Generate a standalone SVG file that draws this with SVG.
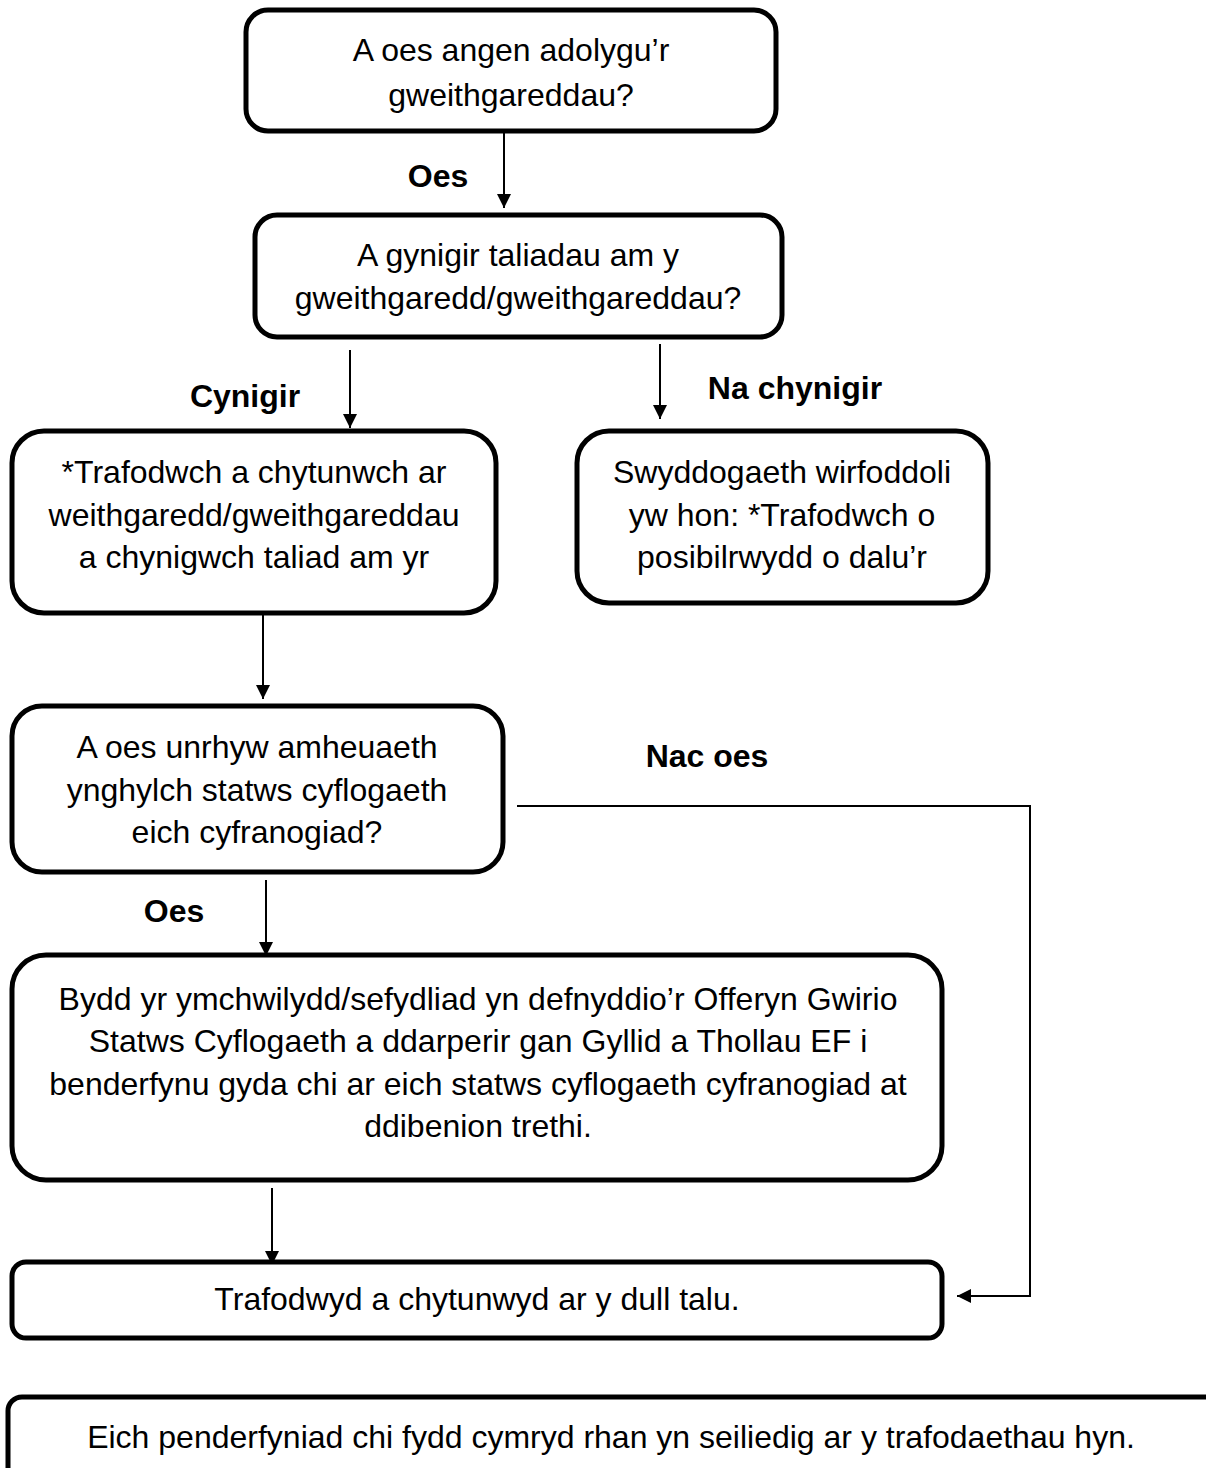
<svg xmlns="http://www.w3.org/2000/svg" width="1206" height="1468" viewBox="0 0 1206 1468">
<style>
.box{fill:#fff;stroke:#000;stroke-width:5}
.t{font-family:"Liberation Sans",Arial,sans-serif;font-size:32px;fill:#000;text-anchor:middle}
.lb{font-family:"Liberation Sans",Arial,sans-serif;font-size:32px;font-weight:bold;fill:#000;text-anchor:middle}
.c{fill:none;stroke:#000;stroke-width:2}
</style>
<defs>
<marker id="ah" markerWidth="14" markerHeight="14" refX="14" refY="7" orient="auto" markerUnits="userSpaceOnUse">
<path d="M0,0 L14,7 L0,14 Z" fill="#000"/>
</marker>
</defs>
<rect width="1206" height="1468" fill="#fff"/>
<g id="connectors">
<line class="c" x1="504" y1="132" x2="504" y2="208" marker-end="url(#ah)"/>
<line class="c" x1="350" y1="350" x2="350" y2="428" marker-end="url(#ah)"/>
<line class="c" x1="660" y1="344" x2="660" y2="419" marker-end="url(#ah)"/>
<line class="c" x1="263" y1="614" x2="263" y2="699" marker-end="url(#ah)"/>
<line class="c" x1="266" y1="880" x2="266" y2="956" marker-end="url(#ah)"/>
<line class="c" x1="272" y1="1188" x2="272" y2="1265" marker-end="url(#ah)"/>
<polyline class="c" points="517,806 1030,806 1030,1296 957,1296" marker-end="url(#ah)"/>
<text class="lb" x="438" y="187">Oes</text>
<text class="lb" x="245" y="407">Cynigir</text>
<text class="lb" x="795" y="399">Na chynigir</text>
<text class="lb" x="707" y="767">Nac oes</text>
<text class="lb" x="174" y="922">Oes</text>
</g>
<g id="n1">
<rect class="box" x="246" y="10" width="530" height="121" rx="22"/>
<text class="t" x="511" y="61">A oes angen adolygu’r</text>
<text class="t" x="511" y="106">gweithgareddau?</text>
</g>
<g id="n2">
<rect class="box" x="255" y="215" width="527" height="122" rx="22"/>
<text class="t" x="518" y="266">A gynigir taliadau am y</text>
<text class="t" x="518" y="309">gweithgaredd/gweithgareddau?</text>
</g>
<g id="n3">
<rect class="box" x="12" y="431" width="484" height="182" rx="32"/>
<text class="t" x="254" y="483">*Trafodwch a chytunwch ar</text>
<text class="t" x="254" y="526">weithgaredd/gweithgareddau</text>
<text class="t" x="254" y="568">a chynigwch taliad am yr</text>
</g>
<g id="n4">
<rect class="box" x="577" y="431" width="411" height="172" rx="32"/>
<text class="t" x="782" y="483">Swyddogaeth wirfoddoli</text>
<text class="t" x="782" y="526">yw hon: *Trafodwch o</text>
<text class="t" x="782" y="568">posibilrwydd o dalu’r</text>
</g>
<g id="n5">
<rect class="box" x="12" y="706" width="491" height="166" rx="30"/>
<text class="t" x="257" y="758">A oes unrhyw amheuaeth</text>
<text class="t" x="257" y="801">ynghylch statws cyflogaeth</text>
<text class="t" x="257" y="843">eich cyfranogiad?</text>
</g>
<g id="n6">
<rect class="box" x="12" y="955" width="930" height="225" rx="34"/>
<text class="t" x="478" y="1010">Bydd yr ymchwilydd/sefydliad yn defnyddio’r Offeryn Gwirio</text>
<text class="t" x="478" y="1052">Statws Cyflogaeth a ddarperir gan Gyllid a Thollau EF i</text>
<text class="t" x="478" y="1095">benderfynu gyda chi ar eich statws cyflogaeth cyfranogiad at</text>
<text class="t" x="478" y="1137">ddibenion trethi.</text>
</g>
<g id="n7">
<rect class="box" x="12" y="1262" width="930" height="76" rx="14"/>
<text class="t" x="477" y="1310">Trafodwyd a chytunwyd ar y dull talu.</text>
</g>
<g id="n8">
<rect class="box" x="8" y="1397" width="1220" height="100" rx="14"/>
<text class="t" x="611" y="1448">Eich penderfyniad chi fydd cymryd rhan yn seiliedig ar y trafodaethau hyn.</text>
</g>
</svg>
